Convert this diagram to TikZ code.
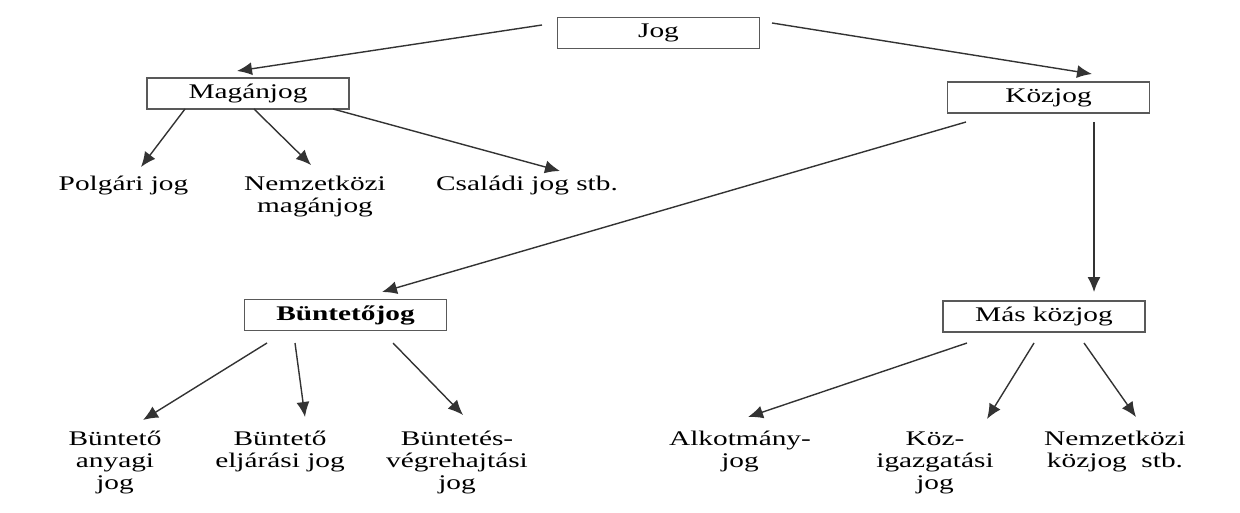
\documentclass[tikz,border=0pt]{standalone}
\usepackage{fontspec}
\setmainfont{Liberation Serif}[FakeStretch=1.41]
\usetikzlibrary{calc,arrows.meta}

\begin{document}
\begin{tikzpicture}[
  x=0.5pt, y=-0.5pt,
  font=\fontsize{10.4}{11}\selectfont,
  jogbox/.style={draw=black!65, line width=0.9pt, minimum width=101pt,
    minimum height=15.5pt, inner sep=0pt, outer sep=0pt},
  leaf/.style={align=center, inner sep=0pt, anchor=north},
  arr/.style={draw=black!80, line width=0.7pt, -{Latex[length=7.5pt,width=6.5pt]}},
]
\useasboundingbox (0,0) rectangle (1240,513);
% boxes
\node[jogbox] (jog) at (658.5,33) {Jog};
\node[jogbox] (mag) at (248,93.5) {Magánjog};
\node[jogbox] (koz) at (1048.5,97.5) {Közjog};
\node[jogbox] (bunt) at (345.5,315) {\bfseries Büntetőjog};
\node[jogbox] (mas) at (1044,316.5) {Más közjog};
% leaves
\node[leaf] (pol) at (123.5,176) {Polgári jog};
\node[leaf] (nmj) at (315,176) {Nemzetközi\\magánjog};
\node[leaf] (csal) at (527,176) {Családi jog stb.};
\node[leaf] (bag) at (115,431) {Büntető\\anyagi\\jog};
\node[leaf] (bej) at (280,431) {Büntető\\eljárási jog};
\node[leaf] (bvh) at (457,431) {Büntetés-\\végrehajtási\\jog};
\node[leaf] (alk) at (740,431) {Alkotmány-\\jog};
\node[leaf] (kig) at (935,431) {Köz-\\igazgatási\\jog};
\node[leaf] (nkj) at (1115,431) {Nemzetközi\\közjog~~stb.};
% arrows
\draw[arr] ($(jog.west)+(-15.5,-8)$) -- ($(mag.north)+(-11,-7)$);
\draw[arr] ($(jog.east)+(12.5,-10)$) -- ($(koz.north)+(43.5,-8)$);
\draw[arr] ($(koz.south)+(-82.5,9)$) -- ($(bunt.north)+(36.5,-7.5)$);
\draw[arr] ($(koz.south)+(45.5,9)$) -- ($(mas.north)+(50,-9)$);
\draw[arr] ($(mag.south)+(-63,0)$) -- ($(pol.north)+(17.5,-9)$);
\draw[arr] ($(mag.south)+(6,0)$) -- ($(nmj.north)+(-4,-11)$);
\draw[arr] ($(mag.south)+(85,0)$) -- ($(csal.north)+(33,-5)$);
\draw[arr] ($(bunt.south)+(-78.5,12.5)$) -- ($(bag.north)+(28,-11)$);
\draw[arr] ($(bunt.south)+(-50.5,12.5)$) -- ($(bej.north)+(25,-14)$);
\draw[arr] ($(bunt.south)+(47.5,12.5)$) -- ($(bvh.north)+(6,-16)$);
\draw[arr] ($(mas.south)+(-77,11)$) -- ($(alk.north)+(8,-14)$);
\draw[arr] ($(mas.south)+(-10,11)$) -- ($(kig.north)+(52,-12)$);
\draw[arr] ($(mas.south)+(40,11)$) -- ($(nkj.north)+(21,-14)$);
\end{tikzpicture}
\end{document}
